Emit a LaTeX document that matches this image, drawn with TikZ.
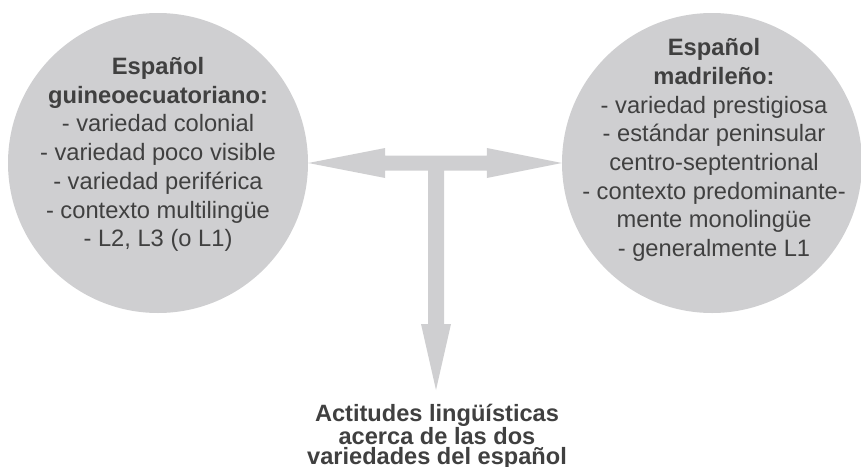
\documentclass[tikz,border=0pt]{standalone}
\usepackage{fontspec}
\setmainfont{Liberation Sans}
\usetikzlibrary{calc}
\definecolor{bubble}{RGB}{207,207,209}
\definecolor{ink}{RGB}{64,64,64}
\begin{document}
\begin{tikzpicture}[x=1pt,y=-1pt,
  bubble/.style={circle,fill=bubble,draw=none,minimum size=300pt,inner sep=0pt},
  bubbletext/.style={align=center,inner sep=0pt,text=ink,font=\fontsize{23.7}{28.7}\selectfont},
  resulttext/.style={align=center,inner sep=0pt,text=ink,font=\fontsize{23.6}{20.3}\selectfont\bfseries},
  conn/.style={fill=bubble,draw=none}]
\useasboundingbox (0,0) rectangle (861,466);
\node[bubble] (L) at (158,163) {};
\node[bubble] (R) at (712,163) {};
\node[bubbletext] (Ltxt) at (158,154.5) {\textbf{Español}\\\textbf{guineoecuatoriano:}\\- variedad colonial\\- variedad poco visible\\- variedad periférica\\- contexto multilingüe\\- L2, L3 (o L1)};
\node[bubbletext] (Rtxt) at (714,150) {\textbf{Español}\\\textbf{madrileño:}\\- variedad prestigiosa\\- estándar peninsular\\centro-septentrional\\- contexto predominante-\\mente monolingüe\\- generalmente L1};
\node[resulttext] (B) at (437,436.5) {Actitudes lingüísticas\\acerca de las dos\\variedades del español};
\coordinate (T) at (436,390);
\coordinate (SR) at ($(T |- L.east)+(8,7.5)$);
\coordinate (SL) at ($(T |- L.east)+(-8,7.5)$);
\fill[conn] (L.east) -- ($(L.east)+(77,-15)$) -- ($(L.east)+(77,-7.5)$)
  -- ($(R.west)+(-75,-7.5)$) -- ($(R.west)+(-75,-15)$) -- (R.west)
  -- ($(R.west)+(-75,15)$) -- ($(R.west)+(-75,7.5)$)
  -- (SR) -- ($(T)+(8,-66)$) -- ($(T)+(15,-66)$) -- (T)
  -- ($(T)+(-15,-66)$) -- ($(T)+(-8,-66)$) -- (SL)
  -- ($(L.east)+(77,7.5)$) -- ($(L.east)+(77,15)$) -- cycle;
\end{tikzpicture}
\end{document}
